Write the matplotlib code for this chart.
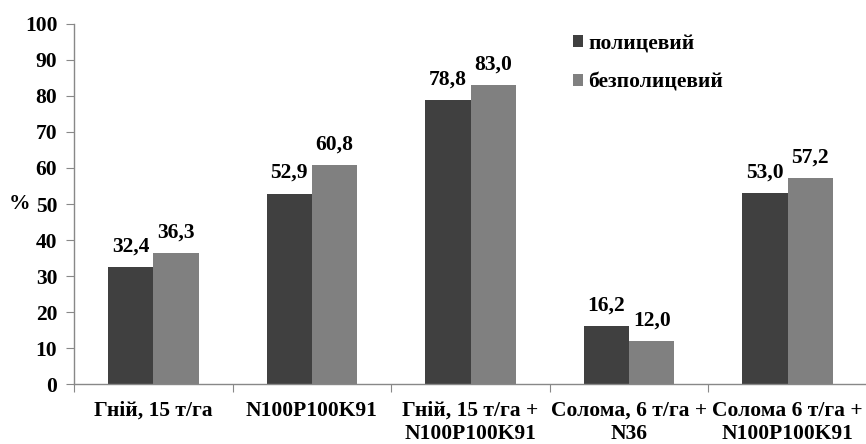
import matplotlib
matplotlib.use("Agg")
import matplotlib.pyplot as plt
import numpy as np

categories = ["Гній, 15 т/га", "N100P100K91", "Гній, 15 т/га +\nN100P100K91",
              "Солома, 6 т/га +\nN36", "Солома 6 т/га +\nN100P100K91"]
series_names = ["полицевий", "безполицевий"]
plowed = [32.4, 52.9, 78.8, 16.2, 53.0]
no_plow = [36.3, 60.8, 83.0, 12.0, 57.2]
yticks = [0, 10, 20, 30, 40, 50, 60, 70, 80, 90, 100]

colors = ["#404040", "#808080"]
families = ["Liberation Serif", "DejaVu Serif"]
fs = 15.5
font = {"family": families, "weight": "bold"}

fig = plt.figure(figsize=(8.66, 4.44), dpi=100)
ax = fig.add_axes([74 / 866, 60 / 444, 793 / 866, 360 / 444])

x = np.arange(len(categories))
w = 1 / 3.5
b1 = ax.bar(x - w / 2, plowed, w, color=colors[0], label=series_names[0])
b2 = ax.bar(x + w / 2, no_plow, w, color=colors[1], label=series_names[1])

for bars, vals in ((b1, plowed), (b2, no_plow)):
    for r, v in zip(bars, vals):
        ax.text(r.get_x() + r.get_width() / 2, v + 4.3, f"{v:.1f}".replace(".", ","),
                ha="center", va="baseline", fontsize=fs, **font)

ax.set_xlim(-0.5, len(categories) - 0.5)
ax.set_ylim(0, 100)
ax.set_yticks(yticks)
ax.set_yticklabels([str(t) for t in yticks], fontsize=fs, **font)
ax.set_xticks(np.arange(-0.5, len(categories), 1.0))
ax.set_xticklabels([])
ax.set_xticks(x, minor=True)
ax.set_xticklabels(categories, minor=True, fontsize=fs, linespacing=1.2, **font)
ax.tick_params(axis="x", which="major", length=6, color="#888888", direction="out")
ax.tick_params(axis="x", which="minor", length=0, pad=12)
ax.tick_params(axis="y", length=6, color="#888888", pad=6)

for s in ("top", "right"):
    ax.spines[s].set_visible(False)
for s in ("left", "bottom"):
    ax.spines[s].set_color("#888888")
    ax.spines[s].set_linewidth(1)

ax.set_ylabel("%", rotation=0, fontsize=fs, va="center", ha="center", **font)
ax.yaxis.set_label_coords(-55 / 793, 0.5)

leg = ax.legend(loc="upper left", bbox_to_anchor=(573 / 866, 1 - 34 / 444),
                bbox_transform=fig.transFigure, frameon=False, borderaxespad=0, borderpad=0,
                prop={"family": families, "weight": "bold", "size": fs},
                handlelength=0.47, handleheight=0.47, handletextpad=0.25, labelspacing=0.85)

fig.savefig("out.png", dpi=100)
